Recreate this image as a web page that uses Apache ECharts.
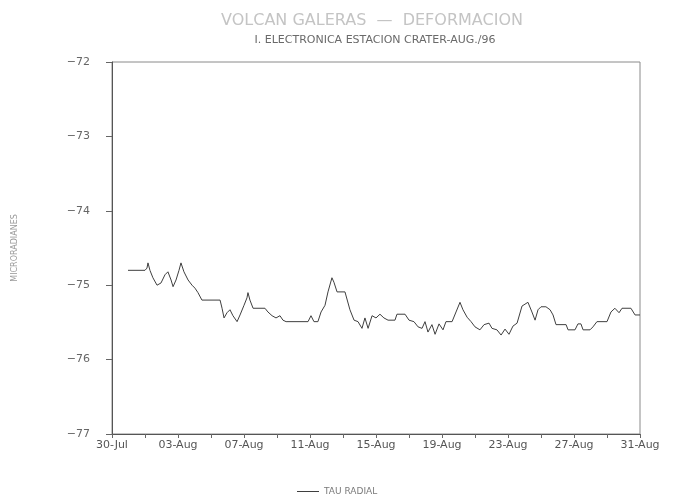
<!DOCTYPE html>
<html>
<head>
<meta charset="utf-8">
<title>Volcan Galeras - Deformacion</title>
<script src="https://cdn.jsdelivr.net/npm/echarts@6/dist/echarts.min.js"></script>
<style>
  html, body { margin: 0; padding: 0; background: #ffffff; }
  #chart { width: 673px; height: 502px; }
</style>
</head>
<body>
<div id="chart"></div>
<script>
// Days elapsed since 30-Jul-96 00:00 for each reading
const dayOffsets = [
  0.97, 2.00, 2.12, 2.18, 2.30, 2.48, 2.73, 2.97, 3.21, 3.39,
  3.58, 3.70, 3.88, 4.06, 4.18, 4.36, 4.61, 4.85, 5.03, 5.21,
  5.45, 6.55, 6.67, 6.79, 6.97, 7.15, 7.33, 7.58, 7.76, 8.00,
  8.18, 8.24, 8.36, 8.55, 9.27, 9.45, 9.70, 9.94, 10.18, 10.36,
  10.55, 11.88, 12.06, 12.24, 12.48, 12.67, 12.91, 13.09, 13.33, 13.45,
  13.64, 14.12, 14.42, 14.67, 14.91, 15.15, 15.33, 15.52, 15.76, 16.00,
  16.24, 16.48, 16.73, 17.15, 17.27, 17.76, 18.00, 18.30, 18.55, 18.79,
  18.97, 19.15, 19.39, 19.58, 19.82, 20.06, 20.24, 20.61, 20.85, 21.09,
  21.27, 21.52, 21.76, 22.00, 22.30, 22.55, 22.85, 23.03, 23.33, 23.58,
  23.82, 24.06, 24.30, 24.55, 24.85, 25.21, 25.45, 25.64, 25.82, 26.00,
  26.30, 26.55, 26.73, 26.91, 27.52, 27.64, 28.06, 28.24, 28.42, 28.55,
  28.97, 29.15, 29.39, 30.00, 30.24, 30.48, 30.73, 30.91, 31.45, 31.70,
  32.00
];

// Radial tilt, microradians
const tauRadial = [
  -74.80, -74.80, -74.77, -74.70, -74.80, -74.90, -75.00, -74.97, -74.86, -74.82,
  -74.93, -75.02, -74.93, -74.80, -74.70, -74.82, -74.93, -75.00, -75.04, -75.10,
  -75.20, -75.20, -75.31, -75.44, -75.37, -75.33, -75.41, -75.49, -75.40, -75.27,
  -75.17, -75.10, -75.20, -75.31, -75.31, -75.36, -75.41, -75.44, -75.41, -75.47,
  -75.49, -75.49, -75.41, -75.49, -75.49, -75.36, -75.27, -75.09, -74.90, -74.96,
  -75.09, -75.09, -75.33, -75.47, -75.49, -75.58, -75.44, -75.58, -75.41, -75.44,
  -75.39, -75.44, -75.47, -75.47, -75.39, -75.39, -75.47, -75.49, -75.56, -75.58,
  -75.49, -75.63, -75.53, -75.66, -75.52, -75.60, -75.49, -75.49, -75.36, -75.23,
  -75.33, -75.43, -75.49, -75.56, -75.60, -75.53, -75.51, -75.58, -75.60, -75.67,
  -75.59, -75.66, -75.55, -75.51, -75.28, -75.23, -75.36, -75.47, -75.33, -75.29,
  -75.29, -75.33, -75.40, -75.53, -75.53, -75.60, -75.60, -75.52, -75.52, -75.60,
  -75.60, -75.56, -75.49, -75.49, -75.36, -75.31, -75.37, -75.31, -75.31, -75.40,
  -75.40
];

// Date labels every four days along the time axis
const dateLabels = [
  '30-Jul', '03-Aug', '07-Aug', '11-Aug', '15-Aug',
  '19-Aug', '23-Aug', '27-Aug', '31-Aug'
];

const yTicks = [-72, -73, -74, -75, -76, -77];

const seriesData = dayOffsets.map((d, i) => [d, tauRadial[i]]);

const chart = echarts.init(document.getElementById('chart'), null, { renderer: 'canvas' });

const fontFamily = '"DejaVu Sans", "Liberation Sans", sans-serif';

chart.setOption({
  backgroundColor: '#ffffff',
  animation: false,
  title: [
    {
      text: 'VOLCAN GALERAS  —  DEFORMACION',
      left: 367,
      top: 8,
      textAlign: 'center',
      textStyle: {
        fontFamily: fontFamily,
        fontSize: 16,
        fontWeight: 'normal',
        color: '#c4c4c4'
      }
    },
    {
      text: 'I. ELECTRONICA ESTACION CRATER-AUG./96',
      left: 370,
      top: 30,
      textAlign: 'center',
      textStyle: {
        fontFamily: fontFamily,
        fontSize: 11,
        fontWeight: 'normal',
        color: '#6a6a6a',
        letterSpacing: 0.5
      }
    }
  ],
  legend: {
    orient: 'horizontal',
    top: 482,
    left: 292,
    itemWidth: 22,
    itemHeight: 1,
    itemGap: 6,
    icon: 'rect',
    textStyle: {
      fontFamily: fontFamily,
      fontSize: 9,
      color: '#7a7a7a'
    },
    data: ['TAU RADIAL']
  },
  grid: {
    left: 112,
    right: 33,
    top: 62,
    bottom: 68,
    show: true,
    borderColor: '#8a8a8a',
    borderWidth: 1,
    backgroundColor: 'transparent'
  },
  xAxis: {
    type: 'value',
    min: 0,
    max: 32,
    interval: 2,
    axisLine: { show: true, lineStyle: { color: '#555', width: 1 } },
    axisTick: { show: true, length: 4, inside: false, lineStyle: { color: '#666' } },
    splitLine: { show: false },
    axisLabel: {
      fontFamily: fontFamily,
      fontSize: 11,
      color: '#555',
      margin: 6,
      showMinLabel: true,
      showMaxLabel: true,
      formatter: function (v) {
        if (v % 4 !== 0) return '';
        return dateLabels[v / 4] || '';
      }
    }
  },
  yAxis: {
    type: 'value',
    min: -77,
    max: -72,
    interval: 1,
    name: 'MICRORADIANES',
    nameLocation: 'middle',
    nameGap: 93,
    nameRotate: 90,
    nameTextStyle: {
      fontFamily: fontFamily,
      fontSize: 8,
      color: '#9a9a9a'
    },
    axisLine: { show: true, lineStyle: { color: '#555', width: 1 } },
    axisTick: { show: true, length: 6, lineStyle: { color: '#666' } },
    splitLine: { show: false },
    axisLabel: {
      fontFamily: fontFamily,
      fontSize: 11,
      color: '#666',
      margin: 22,
      formatter: function (v) {
        return yTicks.indexOf(v) >= 0 ? String(v).replace('-', '−') : '';
      }
    }
  },
  series: [{
    name: 'TAU RADIAL',
    type: 'line',
    data: seriesData,
    showSymbol: false,
    symbol: 'none',
    smooth: false,
    lineStyle: { color: '#3f3f3f', width: 1 },
    itemStyle: { color: '#3f3f3f' }
  }]
});
</script>
</body>
</html>
